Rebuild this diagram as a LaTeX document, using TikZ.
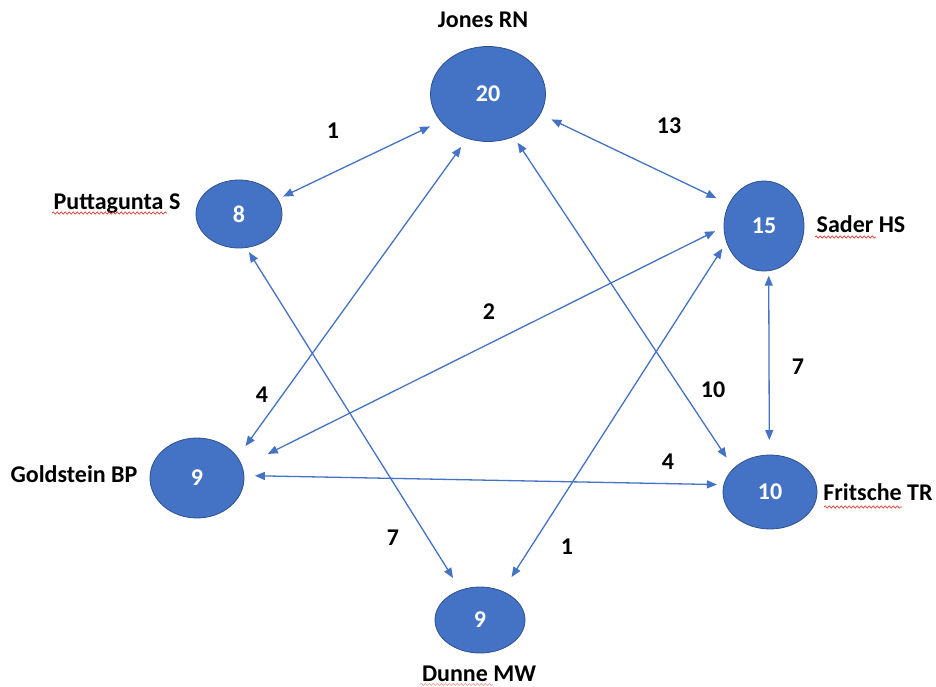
\documentclass[tikz,border=0pt]{standalone}
\usepackage{fontspec}
\setmainfont{Carlito}
\usetikzlibrary{arrows.meta,decorations.pathmorphing,shapes.geometric}
\definecolor{nodeblue}{HTML}{4472C4}
\definecolor{nodeedge}{HTML}{2F528F}
\definecolor{spell}{HTML}{E0403A}

\begin{document}
\begin{tikzpicture}[x=1pt,y=-1pt,
  person/.style={ellipse, fill=nodeblue, draw=nodeedge, line width=0.8pt,
    inner sep=0pt, outer sep=0pt, text=white,
    font=\bfseries\fontsize{24}{28}\selectfont},
  personlabel/.style={anchor=base, inner sep=0pt, font=\bfseries\fontsize{24}{28}\selectfont},
  weightlabel/.style={anchor=base, inner sep=0pt, font=\bfseries\fontsize{24}{28}\selectfont},
  link/.style={draw=nodeblue, line width=1.3pt,
    {Triangle[length=10pt,width=8pt]}-{Triangle[length=10pt,width=8pt]}},
  squiggle/.style={draw=spell, line width=0.7pt, decorate,
    decoration={snake, amplitude=1.1pt, segment length=4pt}}
]
\useasboundingbox[fill=white] (0,0) rectangle (936,687);

% people
\node[person, minimum width=115, minimum height=95] (J) at (488,94)  {20};
\node[person, minimum width=86,  minimum height=68] (P) at (239,214) {8};
\node[person, minimum width=80,  minimum height=90] (S) at (764,226) {15};
\node[person, minimum width=94,  minimum height=80] (G) at (197,478) {9};
\node[person, minimum width=94,  minimum height=74] (F) at (770,492) {10};
\node[person, minimum width=90,  minimum height=66] (D) at (480,620) {9};

% names
\node[personlabel] (nJ) at (483,28)  {Jones RN};
\node[personlabel] (nP) at (117,209) {Puttagunta S};
\node[personlabel] (nS) at (861,232) {Sader HS};
\node[personlabel] (nG) at (74,482)  {Goldstein BP};
\node[personlabel] (nF) at (878,500) {Fritsche TR};
\node[personlabel] (nD) at (479,681) {Dunne MW};

% spell-check underlines
\draw[squiggle] (52,213) -- (167,213);
\draw[squiggle] (815,237) -- (876,237);
\draw[squiggle] (824,507) -- (902,507);
\draw[squiggle, draw=spell!60, line width=0.5pt] (420,684.5) -- (493,684.5);

% links
\draw[link, shorten <=12pt, shorten >=6pt]   (J.210) -- (P.21);
\draw[link, shorten <=12.5pt, shorten >=14pt] (J.339) -- (S.148);
\draw[link, shorten <=10.6pt, shorten >=14pt] (J.245) -- (G.27);
\draw[link, shorten <=7.3pt, shorten >=13pt]  (J.301) -- (F.147);
\draw[link, shorten <=10pt, shorten >=28.7pt] (S.181) -- (G.14);
\draw[link, shorten <=8pt, shorten >=17pt]    (S.203) -- (D.52);
\draw[link, shorten <=5pt, shorten >=15pt]    (S.276) -- (F.91);
\draw[link, shorten <=5.5pt, shorten >=14.4pt] (P.282) -- (D.123);
\draw[link, shorten <=11pt, shorten >=7pt]    (G.3) -- (F.171);

% weights
\node[weightlabel] (w1) at (333,139) {1};
\node[weightlabel] (w2) at (669,134) {13};
\node[weightlabel] (w3) at (262,402) {4};
\node[weightlabel] (w4) at (713,397) {10};
\node[weightlabel] (w5) at (489,319) {2};
\node[weightlabel] (w6) at (567,554) {1};
\node[weightlabel] (w7) at (798,374) {7};
\node[weightlabel] (w8) at (393,545) {7};
\node[weightlabel] (w9) at (668,469) {4};
\end{tikzpicture}
\end{document}
